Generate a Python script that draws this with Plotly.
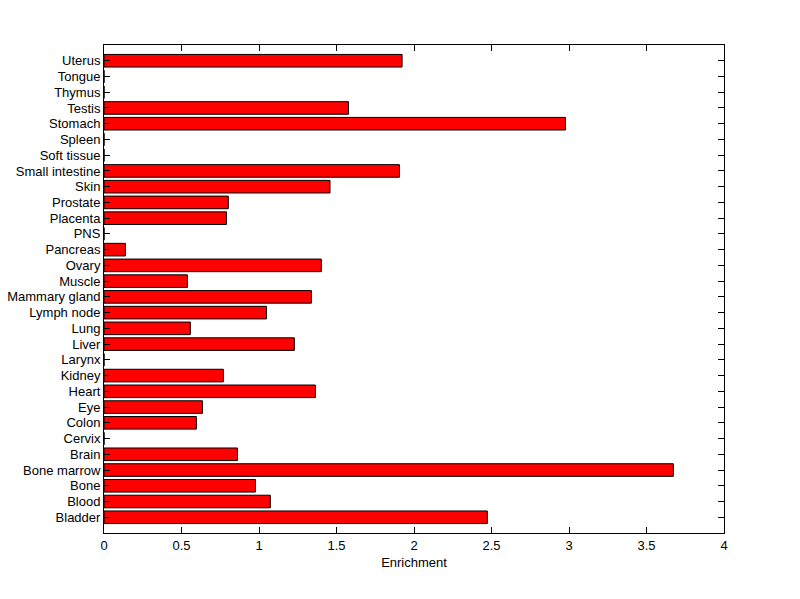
import plotly.graph_objects as go

tissues = ["Bladder", "Blood", "Bone", "Bone marrow", "Brain", "Cervix", "Colon", "Eye",
           "Heart", "Kidney", "Larynx", "Liver", "Lung", "Lymph node", "Mammary gland",
           "Muscle", "Ovary", "Pancreas", "PNS", "Placenta", "Prostate", "Skin",
           "Small intestine", "Soft tissue", "Spleen", "Stomach", "Testis", "Thymus",
           "Tongue", "Uterus"]
enrichment = [2.473, 1.073, 0.977, 3.673, 0.861, 0.0, 0.596, 0.635,
              1.364, 0.770, 0.0, 1.228, 0.557, 1.048, 1.338,
              0.538, 1.402, 0.138, 0.0, 0.790, 0.802, 1.458,
              1.906, 0.0, 0.0, 2.977, 1.577, 0.0,
              0.0, 1.923]
x_ticks = [0, 0.5, 1, 1.5, 2, 2.5, 3, 3.5, 4]
x_tick_text = ["0", "0.5", "1", "1.5", "2", "2.5", "3", "3.5", "4"]

positions = list(range(1, len(tissues) + 1))

fig = go.Figure(go.Bar(
    x=enrichment, y=positions, orientation="h", width=0.8,
    marker=dict(color="#ff0000", line=dict(color="black", width=1)),
))

font = dict(family="Liberation Sans, Arial, sans-serif", size=13, color="black")
fig.update_layout(
    width=792, height=591,
    margin=dict(l=96, r=76, t=37, b=66),
    paper_bgcolor="white", plot_bgcolor="white",
    showlegend=False, font=font,
    xaxis=dict(range=[0, 4], tickvals=x_ticks, ticktext=x_tick_text,
               ticks="inside", ticklen=6, tickcolor="black", tickwidth=1,
               showline=True, linecolor="black", linewidth=1, mirror="ticks",
               showgrid=False, zeroline=False, automargin=False,
               title=dict(text="Enrichment", standoff=6, font=font)),
    yaxis=dict(range=[0, len(tissues) + 1], tickvals=positions, ticktext=tissues,
               ticks="inside", ticklen=6, tickcolor="black", tickwidth=1,
               showline=True, linecolor="black", linewidth=1, mirror="ticks",
               showgrid=False, zeroline=False, automargin=False),
)

fig.write_html("out.html")
